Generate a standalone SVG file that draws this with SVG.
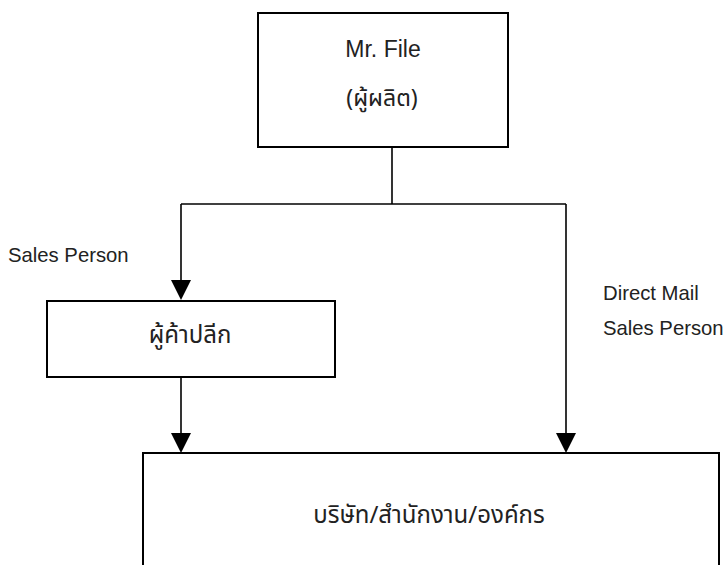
<svg xmlns="http://www.w3.org/2000/svg" width="725" height="565" viewBox="0 0 725 565">
<defs>
<style>
.box{fill:#fff;stroke:#000;stroke-width:2}
.ln{fill:none;stroke:#000;stroke-width:1.6}
.head{fill:#000}
.lat{font-family:"Liberation Sans",Arial,sans-serif;fill:#222}
.th{font-family:"Noto Sans Thai","Noto Sans","DejaVu Sans","Liberation Sans",sans-serif;fill:#222}
</style>
<path id="ah" d="M-10,-20 L10,-20 L0,0 Z"/>
</defs>
<rect width="725" height="565" fill="#fff"/>
<g id="connectors">
<polyline class="ln" points="392,147 392,204"/>
<polyline class="ln" points="181,204 566,204"/>
<line class="ln" x1="181" y1="204" x2="181" y2="282"/>
<use href="#ah" class="head" x="181" y="300"/>
<line class="ln" x1="181" y1="377" x2="181" y2="435"/>
<use href="#ah" class="head" x="181" y="453"/>
<line class="ln" x1="566" y1="204" x2="566" y2="435"/>
<use href="#ah" class="head" x="566" y="453"/>
</g>
<g id="producer">
<rect class="box" x="258" y="13" width="250" height="134"/>
<text class="lat" x="383" y="57" font-size="23" text-anchor="middle">Mr. File</text>
<text class="th" x="382" y="106" font-size="23" text-anchor="middle">(ผู้ผลิต)</text>
</g>
<g id="retailer">
<rect class="box" x="47" y="301" width="288" height="76"/>
<text class="th" x="190" y="343" font-size="24" text-anchor="middle">ผู้ค้าปลีก</text>
</g>
<g id="org">
<rect class="box" x="143" y="453" width="576" height="130"/>
<text class="th" x="429" y="523" font-size="24" text-anchor="middle">บริษัท/สำนักงาน/องค์กร</text>
</g>
<g id="labels">
<text class="lat" x="8" y="262" font-size="20.3">Sales Person</text>
<text class="lat" x="603" y="300" font-size="20.3">Direct Mail</text>
<text class="lat" x="603" y="335" font-size="20.3">Sales Person</text>
</g>
</svg>
